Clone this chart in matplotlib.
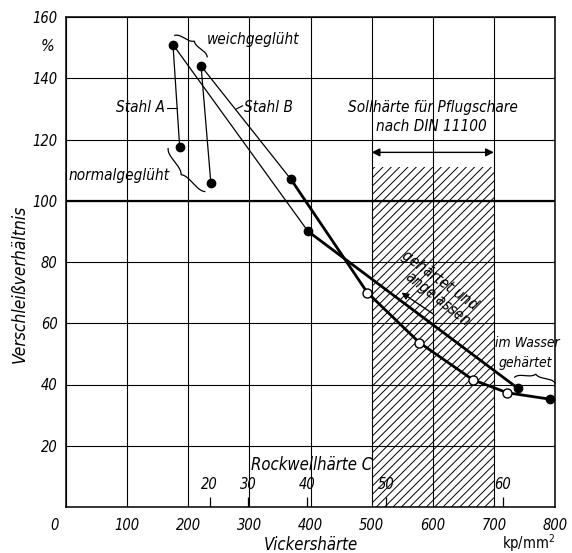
import numpy as np
import matplotlib
matplotlib.use('Agg')
import matplotlib.pyplot as plt
from matplotlib.patches import Rectangle

plt.rcParams['font.family'] = ['DejaVu Sans']
plt.rcParams['font.stretch'] = 'condensed'
plt.rcParams['hatch.linewidth'] = 0.7

# Stahl A: weichgeglüht -> gehärtet u. angelassen -> im Wasser gehärtet
a_hv = [175, 396, 739]
a_vh = [151, 90, 38.8]
# Stahl B
b_hv = [221, 368, 493, 578, 666, 722, 792]
b_vh = [144, 107, 70, 53.7, 41.5, 37.3, 35.2]
b_open = [2, 3, 4, 5]
# normalgeglüht
norm_hv = [186, 237]
norm_vh = [117.5, 105.7]

rockwell_c = [20, 30, 40, 50, 60]
rockwell_hv = [235, 298, 394, 523, 715]

x_ticks = [0, 100, 200, 300, 400, 500, 600, 700, 800]
y_ticks = [0, 20, 40, 60, 80, 100, 120, 140, 160]
soll = [500, 700]

fig = plt.figure(figsize=(5.72, 5.53), dpi=100)
ax = fig.add_axes([66/572, 46/553, 489/572, 490/553])
ax.set_xlim(0, 800)
ax.set_ylim(0, 160)

it = dict(style='italic', fontsize=11, color='k')
lab = dict(style='italic', fontsize=10.5, color='k')

# Gitter
ax.set_xticks(x_ticks)
ax.set_yticks(y_ticks)
ax.set_xticklabels([''] + [str(v) for v in x_ticks[1:]], **lab)
ax.set_yticklabels([''] + [str(v) for v in y_ticks[1:]], **lab)
ax.tick_params(length=0, pad=8)
ax.tick_params(axis='y', pad=6)
ax.grid(True, color='k', lw=0.8)
ax.axhline(100, color='k', lw=1.6)
for s in ax.spines.values():
    s.set_linewidth(1.1)
ax.text(-18, -6, '0', ha='center', va='center', clip_on=False, **lab)

# Sollhärte-Bereich
ax.add_patch(Rectangle((soll[0], 0), soll[1]-soll[0], 111, fill=False,
                       hatch='////', lw=0, edgecolor='k'))
ax.annotate('', xy=(soll[0], 115.8), xytext=(soll[1], 115.8),
            arrowprops=dict(arrowstyle='<|-|>', color='k', lw=1,
                            mutation_scale=12, shrinkA=0, shrinkB=0))
ax.text(600, 130.6, 'Sollhärte für Pflugschare', ha='center', va='center', **it)
ax.text(598, 124.1, 'nach DIN 11100', ha='center', va='center', **it)

# Kurven
ax.plot(a_hv[:2], a_vh[:2], 'k-', lw=0.9)
ax.plot(a_hv[1:], a_vh[1:], 'k-', lw=2)
ax.plot(b_hv[:2], b_vh[:2], 'k-', lw=0.9)
ax.plot(b_hv[1:], b_vh[1:], 'k-', lw=2)
ax.plot([a_hv[0], norm_hv[0]], [a_vh[0], norm_vh[0]], 'k-', lw=0.9)
ax.plot([b_hv[0], norm_hv[1]], [b_vh[0], norm_vh[1]], 'k-', lw=0.9)
filled_x = a_hv + [b_hv[i] for i in range(len(b_hv)) if i not in b_open] + norm_hv
filled_y = a_vh + [b_vh[i] for i in range(len(b_vh)) if i not in b_open] + norm_vh
ax.plot(filled_x, filled_y, 'o', color='k', ms=6, zorder=5)
ax.plot([b_hv[i] for i in b_open], [b_vh[i] for i in b_open], 'o', mfc='white',
        mec='k', mew=1, ms=6.5, zorder=5)


def brace(p1, p2, depth):
    t = ax.transData
    a = t.transform(p1)
    b = t.transform(p2)
    v = b - a
    L = np.hypot(*v)
    u = v / L
    n = np.array([-u[1], u[0]])
    s = np.linspace(0, L, 200)
    ss = np.minimum(s, L - s)
    r = L * 0.07
    h = depth/2*(1-np.exp(-ss/r)) + depth/2*np.exp(-(L/2-ss)/r)
    pts = a + np.outer(s, u) + np.outer(h, n)
    d = t.inverted().transform(pts)
    ax.plot(d[:, 0], d[:, 1], 'k-', lw=0.9, clip_on=False)


brace((178, 154), (231, 147), 6)
brace((167, 117), (227, 103), -7)
brace((734, 42.4), (800, 40.5), 6)

ax.text(231, 152.5, 'weichgeglüht', ha='left', va='center', **it)
ax.text(170, 108.4, 'normalgeglüht', ha='right', va='center', **it)
ax.text(162, 130.3, 'Stahl A', ha='right', va='center', **it)
ax.plot([166, 182], [130.3, 130.3], 'k-', lw=0.8)
ax.text(291, 130.3, 'Stahl B', ha='left', va='center', **it)
ax.plot([289, 279], [131, 130], 'k-', lw=0.8)
ax.text(611, 74.1, 'gehärtet und', ha='center', va='center', rotation=-36,
        rotation_mode='anchor', **it)
ax.text(608, 67.9, 'angelassen', ha='center', va='center', rotation=-38,
        rotation_mode='anchor', **it)
ax.annotate('', xy=(549, 70), xytext=(601, 63),
            arrowprops=dict(arrowstyle='-|>', color='k', lw=1,
                            mutation_scale=10, shrinkA=0, shrinkB=0))
ax.text(754, 53.6, 'im Wasser', ha='center', va='center', style='italic', fontsize=10)
ax.text(752, 47.0, 'gehärtet', ha='center', va='center', style='italic', fontsize=10)

# Rockwell-Skala
ax.vlines(rockwell_hv, 0, 3.3, color='k', lw=0.9)
for c, hv in zip(rockwell_c, rockwell_hv):
    ax.text(hv, 7.2, str(c), ha='center', va='center', **lab)
ax.text(402, 13.7, 'Rockwellhärte C', ha='center', va='center', style='italic', fontsize=12)

ax.text(401, -12.4, 'Vickershärte', ha='center', va='center', clip_on=False,
        style='italic', fontsize=12)
ax.text(756, -11.9, 'kp/mm$^2$', ha='center', va='center', fontsize=10.5, clip_on=False)
ax.text(-30, 150.5, '%', ha='center', va='center', clip_on=False, style='italic', fontsize=11.5)
ax.text(-75, 73, 'Verschleißverhältnis', rotation=90, ha='center', va='center',
        clip_on=False, style='italic', fontsize=12.5)

fig.savefig('out.png', dpi=100)
